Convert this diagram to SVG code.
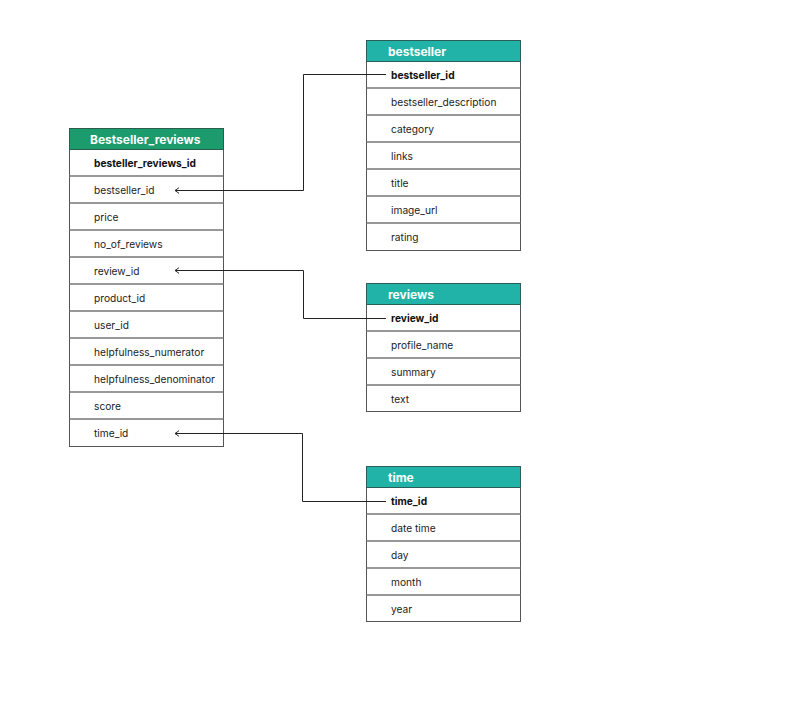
<svg xmlns="http://www.w3.org/2000/svg" width="804" height="726" viewBox="0 0 804 726">
<style>
.hdr-g{fill:#1c9b6d;stroke:#2a5e4c;stroke-width:1}
.hdr-t{fill:#22b3a8;stroke:#2a5e58;stroke-width:1}
.row{fill:#fff;stroke:#555;stroke-width:1}
.sep{stroke:#777;stroke-width:1.6}
.ht{font-family:Inter,"Liberation Sans",sans-serif;font-size:12px;font-weight:700;fill:#fff}
.t{font-family:Inter,"Liberation Sans",sans-serif;font-size:10.2px;fill:#222}
.b{font-weight:700;fill:#111}
.c{fill:none;stroke:#222;stroke-width:1}
</style>
<defs>
<marker id="arr" viewBox="0 0 10 10" refX="6" refY="5" markerWidth="8" markerHeight="8" markerUnits="userSpaceOnUse" orient="auto">
<path d="M1,1.5 L6,5 L1,8.5" fill="none" stroke="#222" stroke-width="1.2"/>
</marker>
</defs>
<rect width="804" height="726" fill="#fff"/>

<g id="bestseller_reviews">
<rect class="row" x="69.5" y="149.5" width="154" height="297"/>
<rect class="hdr-g" x="69.5" y="128.5" width="154" height="21"/>
<text class="ht" x="90" y="143.5">Bestseller_reviews</text>
<path class="sep" d="M69.5,176 H223.5 M69.5,203 H223.5 M69.5,230 H223.5 M69.5,257 H223.5 M69.5,284 H223.5 M69.5,311 H223.5 M69.5,338 H223.5 M69.5,365 H223.5 M69.5,392 H223.5 M69.5,419 H223.5"/>
<text class="t b" x="94" y="166.5">besteller_reviews_id</text>
<text class="t" x="94" y="193.5">bestseller_id</text>
<text class="t" x="94" y="220.5">price</text>
<text class="t" x="94" y="247.5">no_of_reviews</text>
<text class="t" x="94" y="274.5">review_id</text>
<text class="t" x="94" y="301.5">product_id</text>
<text class="t" x="94" y="328.5">user_id</text>
<text class="t" x="94" y="355.5">helpfulness_numerator</text>
<text class="t" x="94" y="382.5">helpfulness_denominator</text>
<text class="t" x="94" y="409.5">score</text>
<text class="t" x="94" y="436.5">time_id</text>
</g>

<g id="bestseller">
<rect class="row" x="366.5" y="61.5" width="154" height="189"/>
<rect class="hdr-t" x="366.5" y="40.5" width="154" height="21"/>
<text class="ht" x="388" y="55.5">bestseller</text>
<path class="sep" d="M366.5,88 H520.5 M366.5,115 H520.5 M366.5,142 H520.5 M366.5,169 H520.5 M366.5,196 H520.5 M366.5,223 H520.5"/>
<text class="t b" x="391" y="78.5">bestseller_id</text>
<text class="t" x="391" y="105.5">bestseller_description</text>
<text class="t" x="391" y="132.5">category</text>
<text class="t" x="391" y="159.5">links</text>
<text class="t" x="391" y="186.5">title</text>
<text class="t" x="391" y="213.5">image_url</text>
<text class="t" x="391" y="240.5">rating</text>
</g>

<g id="reviews">
<rect class="row" x="366.5" y="304.5" width="154" height="107"/>
<rect class="hdr-t" x="366.5" y="283.5" width="154" height="21"/>
<text class="ht" x="388" y="298.5">reviews</text>
<path class="sep" d="M366.5,331 H520.5 M366.5,358 H520.5 M366.5,385 H520.5"/>
<text class="t b" x="391" y="321.5">review_id</text>
<text class="t" x="391" y="348.5">profile_name</text>
<text class="t" x="391" y="375.5">summary</text>
<text class="t" x="391" y="402.5">text</text>
</g>

<g id="time">
<rect class="row" x="366.5" y="487.5" width="154" height="134"/>
<rect class="hdr-t" x="366.5" y="466.5" width="154" height="21"/>
<text class="ht" x="388" y="481.5">time</text>
<path class="sep" d="M366.5,514 H520.5 M366.5,541 H520.5 M366.5,568 H520.5 M366.5,595 H520.5"/>
<text class="t b" x="391" y="504.5">time_id</text>
<text class="t" x="391" y="531.5">date time</text>
<text class="t" x="391" y="558.5">day</text>
<text class="t" x="391" y="585.5">month</text>
<text class="t" x="391" y="612.5">year</text>
</g>

<g id="connectors">
<path class="c" d="M386,74.5 H303.5 V190.5 H175" marker-end="url(#arr)"/>
<path class="c" d="M386,318.5 H303.5 V270.5 H175" marker-end="url(#arr)"/>
<path class="c" d="M386,501.5 H302.5 V433.5 H175" marker-end="url(#arr)"/>
</g>
</svg>
